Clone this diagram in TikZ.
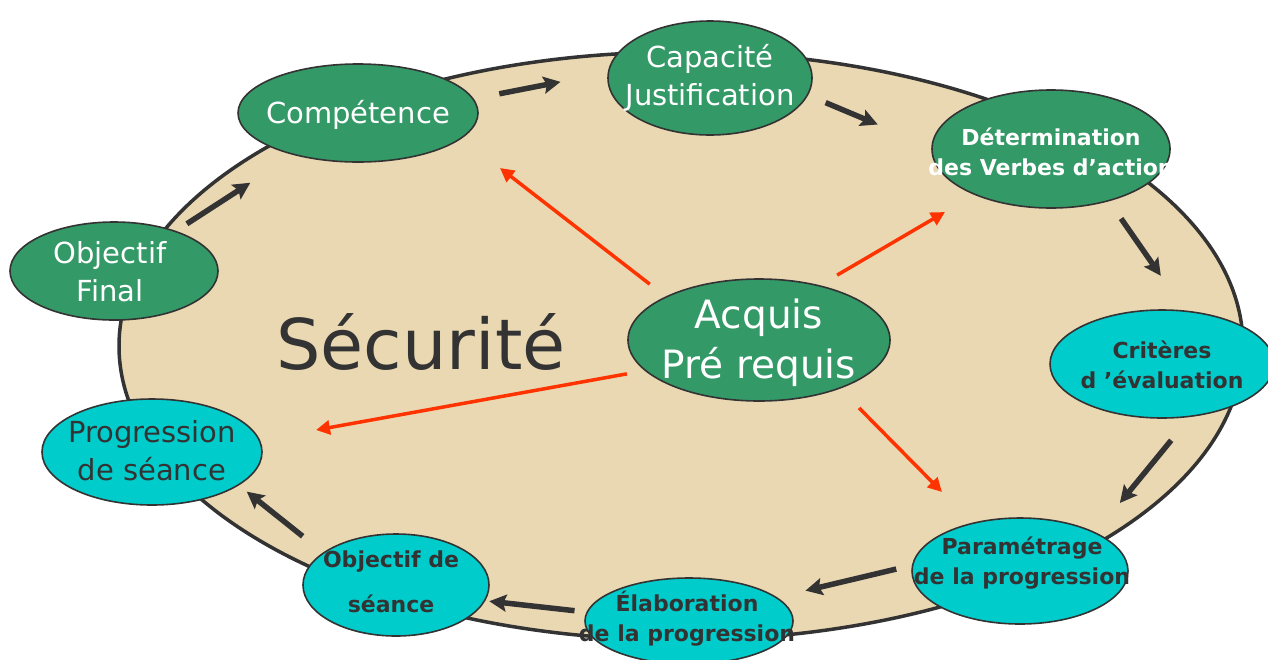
\documentclass[tikz,border=0pt]{standalone}
\usepackage{fontspec}
\setmainfont{DejaVu Sans}
\usetikzlibrary{shapes.geometric,arrows.meta}
\definecolor{bgbeige}{RGB}{234,216,178}
\definecolor{ngreen}{RGB}{51,153,102}
\definecolor{ncyan}{RGB}{0,204,204}
\definecolor{dgray}{RGB}{51,51,51}
\definecolor{redc}{RGB}{255,51,0}
\tikzset{
  bub/.style={ellipse,draw=dgray,line width=1.6pt,inner sep=0pt},
  gbub/.style={bub,fill=ngreen},
  cbub/.style={bub,fill=ncyan},
  wtxt/.style={text=white,align=center,inner sep=0pt,font=\fontsize{29}{38}\selectfont},
  dtxt/.style={text=dgray,align=center,inner sep=0pt,font=\fontsize{29}{38}\selectfont},
  wbold/.style={text=white,align=center,inner sep=0pt,font=\bfseries\fontsize{22}{30}\selectfont},
  dbold/.style={text=dgray,align=center,inner sep=0pt,font=\bfseries\fontsize{22}{30}\selectfont},
  darr/.style={draw=dgray,line width=5.5pt,-{Stealth[length=17pt,width=17pt,inset=3pt]}},
  rarr/.style={draw=redc,line width=3.5pt,-{Triangle[length=14pt,width=14pt]}}
}
\begin{document}
\begin{tikzpicture}[x=1pt,y=-1pt]
\useasboundingbox (0,0) rectangle (1268,659);
\clip (0,0) rectangle (1268,659);
% big background ellipse
\node[ellipse,draw=dgray,line width=3.5pt,fill=bgbeige,inner sep=0pt,
      minimum width=1124pt,minimum height=588pt] (back) at (681,346) {};
% bubbles
\node[gbub,minimum width=208pt,minimum height=98pt]  (ofin)  at (114,271) {};
\node[gbub,minimum width=240pt,minimum height=98pt]  (comp)  at (358,113) {};
\node[gbub,minimum width=204pt,minimum height=114pt] (cap)   at (710,78) {};
\node[gbub,minimum width=238pt,minimum height=118pt] (det)   at (1051,149) {};
\node[cbub,minimum width=224pt,minimum height=108pt] (crit)  at (1162,364) {};
\node[cbub,minimum width=216pt,minimum height=106pt] (param) at (1020,571) {};
\node[cbub,minimum width=208pt,minimum height=86pt]  (elab)  at (689,621) {};
\node[cbub,minimum width=186pt,minimum height=102pt] (obs)   at (396,585) {};
\node[cbub,minimum width=220pt,minimum height=106pt] (prog)  at (152,452) {};
\node[gbub,minimum width=262pt,minimum height=122pt] (acq)   at (759,340) {};
% texts
\node[wtxt] (ofinT) at (110,272) {Objectif\\Final};
\node[wtxt] (compT) at (358,115) {Compétence};
\node[wtxt] (capT) at (710,78) {Capacité\\Justification};
\node[wbold] (detT) at (1051,152) {Détermination\\des Verbes d’action};
\node[dbold] (critT) at (1162,365) {Critères\\d ’évaluation};
\node[dbold] (paramT) at (1022,563) {Paramétrage\\de la progression};
\node[dbold] (elabT) at (687,619) {Élaboration\\de la progression};
\node[dbold,font=\bfseries\fontsize{22}{45}\selectfont] (obsT) at (391,582) {Objectif de\\séance};
\node[dtxt] (progT) at (152,451) {Progression\\de séance};
\node[wtxt,font=\fontsize{39}{50}\selectfont] (acqT) at (759,343) {Acquis\\Pré requis};
\node[text=dgray,inner sep=0pt,font=\fontsize{70}{80}\selectfont,anchor=base] (secT) at (421,369) {Sécurité};
% cycle arrows
\draw[darr,shorten <=13pt,shorten >=51pt] (ofin) -- (comp);
\draw[darr,shorten <=26pt,shorten >=48pt] (comp.7.7) -- (cap.177.7);
\draw[darr,shorten <=19pt,shorten >=58pt] (cap.-10.2) -- (det.179.2);
\draw[darr,shorten <=21pt,shorten >=42pt] (det.-42.2) -- (crit.67.4);
\draw[darr,shorten <=30pt,shorten >=38pt] (crit.-62.3) -- (param.27.6);
\draw[darr,shorten <=16pt,shorten >=29pt] (param.177.5) -- (elab.15.4);
\draw[darr,shorten <=12pt,shorten >=4pt] (elab.175.7) -- (obs.-10.7);
\draw[darr,shorten <=26pt,shorten >=10pt] (obs.156.2) -- (prog.-21.6);
% red arrows
\coordinate (r1) at (500,168);
\coordinate (r2) at (945,212);
\coordinate (r3) at (316,430);
\coordinate (r4) at (942,492);
\draw[rarr,shorten <=20pt] (acq.155.4) -- (r1);
\draw[rarr,shorten <=20pt] (acq.42.5) -- (r2);
\draw[rarr,shorten <=18pt] (acq.195.2) -- (r3);
\draw[rarr,shorten <=27pt] (acq.-31.5) -- (r4);
\end{tikzpicture}
\end{document}
